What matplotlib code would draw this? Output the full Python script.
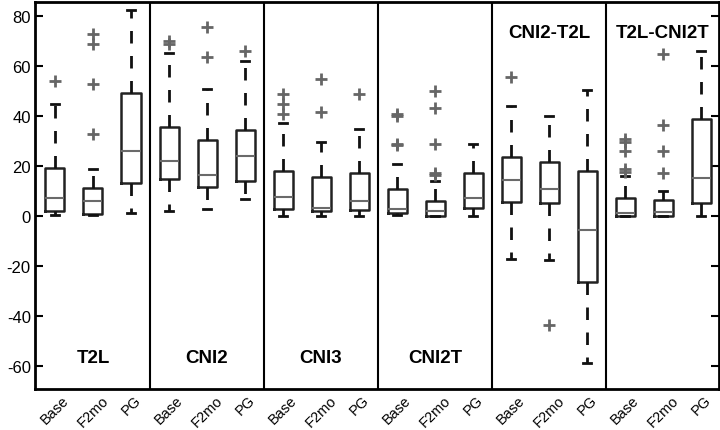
import matplotlib
matplotlib.use("Agg")
import matplotlib.pyplot as plt

plt.rcParams['font.family'] = ['Liberation Sans', 'DejaVu Sans']

panels = ["T2L", "CNI2", "CNI3", "CNI2T", "CNI2-T2L", "T2L-CNI2T"]
label_top = [False, False, False, False, True, True]
groups = ["Base", "F2mo", "PG"]

# per box (6 panels x 3 groups), in order
medians = [7.3, 6.0, 25.9,   22.0, 16.3, 24.0,   7.5, 3.1, 6.0,
           2.7, 2.0, 7.1,    14.4, 10.8, -5.5,   1.3, 1.7, 15.2]
q1 = [1.9, 0.9, 13.1,   14.9, 11.7, 13.9,   2.9, 2.1, 2.5,
      1.3, 0.0, 3.3,    5.5, 5.2, -26.5,    0.0, 0.0, 5.1]
q3 = [19.3, 11.1, 49.2,   35.5, 30.4, 34.4,   17.9, 15.5, 17.1,
      10.9, 6.1, 17.1,    23.5, 21.5, 17.9,   7.1, 6.4, 39.0]
whis_lo = [0.3, 0.3, 1.1,   2.1, 2.9, 6.9,   0.0, 0.0, 0.0,
           0.3, 0.0, 0.0,   -17.1, -17.6, -58.7,   0.0, 0.0, 0.0]
whis_hi = [44.7, 19.0, 82.4,   65.2, 51.0, 62.0,   37.1, 29.7, 34.9,
           21.0, 14.0, 28.7,   44.0, 40.0, 50.5,   16.0, 9.9, 66.0]
outliers = [
    [54.0], [73.0, 69.0, 53.0, 33.0], [],
    [70.0, 69.0], [75.7, 63.7], [65.9],
    [48.9, 44.9, 40.7], [54.9, 41.7], [48.8],
    [40.7, 40.0, 29.0, 28.4], [50.0, 43.3, 29.0, 17.3, 16.4], [],
    [55.7], [-43.6], [],
    [30.7, 29.7, 26.0, 18.9, 17.7], [65.0, 36.3, 25.9, 17.2], [],
]
yticks = [-60, -40, -20, 0, 20, 40, 60, 80]

stats = []
for i in range(len(medians)):
    stats.append(dict(med=medians[i], q1=q1[i], q3=q3[i],
                      whislo=whis_lo[i], whishi=whis_hi[i], fliers=outliers[i]))
positions = list(range(1, len(stats) + 1))
xlabels = groups * len(panels)

fig = plt.figure(figsize=(7.2, 4.31), dpi=100)
ax = fig.add_axes([0.0486, 0.095, 0.950, 0.898])

ax.bxp(stats, positions=positions, widths=0.5, showfliers=True,
       boxprops=dict(color='#222222', linewidth=1.8),
       medianprops=dict(color='#6a6a6a', linewidth=1.5),
       whiskerprops=dict(color='#111111', linewidth=2.0, linestyle=(0, (4.5, 4.5))),
       capprops=dict(color='#111111', linewidth=2.0),
       capwidths=0.2,
       flierprops=dict(marker='+', markeredgecolor='#666666', markersize=8,
                       markeredgewidth=2.0, linestyle='none'))

ax.set_xlim(0.474, 18.47)
ax.set_ylim(-69.2, 85.6)

for k in range(1, len(panels)):
    ax.axvline(3 * k + 0.5, color='black', linewidth=1.5)

for k, name in enumerate(panels):
    xc = 3 * k + 2
    yv = 73.5 if label_top[k] else -56.5
    ax.text(xc, yv, name, ha='center', va='center', fontsize=13.5, fontweight='bold')

ax.set_yticks(yticks)
ax.set_yticklabels([str(v) for v in yticks], fontsize=12)
ax.tick_params(axis='y', direction='in', length=6, width=1.5, right=True, left=True,
               labelright=False, pad=3)
ax.set_xticks(positions)
ax.set_xticklabels(xlabels, rotation=45, ha='center', va='top', fontsize=10.5)
ax.tick_params(axis='x', length=0, pad=2.5)

for s in ax.spines.values():
    s.set_linewidth(2.0)
    s.set_color('black')

fig.savefig("out.png", dpi=100)
